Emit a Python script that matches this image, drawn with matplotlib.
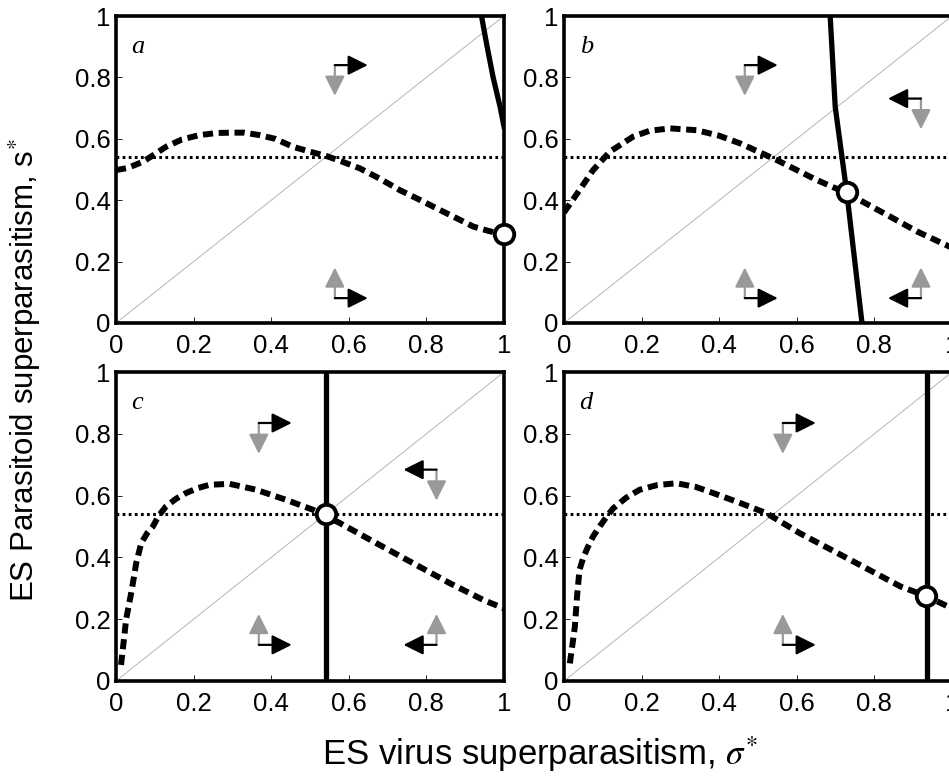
import matplotlib.pyplot as plt

plt.rcParams['font.family'] = ['Liberation Sans', 'DejaVu Sans']
plt.rcParams['mathtext.fontset'] = 'stix'

ticks = [0, 0.2, 0.4, 0.6, 0.8, 1]
tick_labels = ['0', '0.2', '0.4', '0.6', '0.8', '1']
letters = ['a', 'b', 'c', 'd']

# horizontal dotted level (s*)
s_level = 0.54

# dashed curves (parasitoid best response)
a_dash_x = [0.0, 0.03, 0.069, 0.1, 0.129, 0.17, 0.215, 0.26, 0.301, 0.33, 0.37, 0.41, 0.456, 0.5,
            0.542, 0.58, 0.628, 0.68, 0.731, 0.78, 0.835, 0.88, 0.921, 0.96, 1.0]
a_dash_y = [0.498, 0.505, 0.525, 0.55, 0.574, 0.598, 0.612, 0.619, 0.62, 0.62, 0.612, 0.6, 0.574, 0.558,
            0.544, 0.527, 0.504, 0.47, 0.433, 0.403, 0.368, 0.34, 0.314, 0.3, 0.287]

b_dash_x = [0.0, 0.04, 0.075, 0.118, 0.178, 0.22, 0.273, 0.342, 0.4, 0.454, 0.548, 0.651, 0.729,
            0.824, 0.91, 1.0]
b_dash_y = [0.36, 0.433, 0.498, 0.558, 0.607, 0.626, 0.634, 0.628, 0.61, 0.585, 0.531, 0.466, 0.423,
            0.358, 0.298, 0.245]

c_dash_x = [0.013, 0.02, 0.026, 0.033, 0.039, 0.046, 0.052, 0.065, 0.08, 0.095, 0.11, 0.129, 0.155,
            0.18, 0.21, 0.241, 0.293, 0.361, 0.439, 0.508, 0.577, 0.671, 0.766, 0.861, 0.947, 1.0]
c_dash_y = [0.052, 0.13, 0.198, 0.245, 0.284, 0.335, 0.381, 0.446, 0.478, 0.5, 0.535, 0.565, 0.59,
            0.608, 0.624, 0.635, 0.638, 0.619, 0.586, 0.554, 0.511, 0.446, 0.381, 0.316, 0.262, 0.235]

d_dash_x = [0.015, 0.022, 0.028, 0.034, 0.04, 0.05, 0.062, 0.075, 0.092, 0.11, 0.127, 0.16, 0.195,
            0.24, 0.29, 0.34, 0.385, 0.45, 0.522, 0.608, 0.738, 0.867, 0.931, 1.0]
d_dash_y = [0.057, 0.12, 0.176, 0.28, 0.36, 0.4, 0.435, 0.468, 0.5, 0.532, 0.559, 0.593, 0.619,
            0.634, 0.64, 0.628, 0.608, 0.578, 0.543, 0.478, 0.392, 0.306, 0.276, 0.235]

# solid curves (virus best response)
a_solid_x = [0.942, 0.955, 0.972, 0.99, 1.0]
a_solid_y = [1.0, 0.91, 0.8, 0.704, 0.64]
b_solid_x = [0.686, 0.699, 0.729, 0.768]
b_solid_y = [1.0, 0.704, 0.423, 0.0]
c_solid_x = [0.542, 0.542]
c_solid_y = [0.0, 1.0]
d_solid_x = [0.935, 0.935]
d_solid_y = [0.0, 1.0]

# equilibrium points
eq_x = [1.0, 0.729, 0.542, 0.933]
eq_y = [0.29, 0.426, 0.54, 0.276]

# direction arrows: corner x, corner y, horizontal sign, vertical sign
arrows = [
    [(0.564, 0.84, 1, -1), (0.564, 0.081, 1, 1)],
    [(0.466, 0.84, 1, -1), (0.92, 0.731, -1, -1), (0.466, 0.081, 1, 1), (0.92, 0.081, -1, 1)],
    [(0.368, 0.835, 1, -1), (0.826, 0.684, -1, -1), (0.368, 0.117, 1, 1), (0.826, 0.117, -1, 1)],
    [(0.564, 0.835, 1, -1), (0.564, 0.117, 1, 1)],
]

dash_x = [a_dash_x, b_dash_x, c_dash_x, d_dash_x]
dash_y = [a_dash_y, b_dash_y, c_dash_y, d_dash_y]
solid_x = [a_solid_x, b_solid_x, c_solid_x, d_solid_x]
solid_y = [a_solid_y, b_solid_y, c_solid_y, d_solid_y]

W, H = 949, 778
fig = plt.figure(figsize=(W / 100, H / 100), dpi=100)

# axes boxes in pixels: left, top, right, bottom
boxes = [(116, 16, 504, 323), (564, 16, 952, 323),
         (116, 372, 504, 681), (564, 372, 952, 681)]

hlen, vlen = 0.085, 0.1

for i, (l, t, r, b) in enumerate(boxes):
    ax = fig.add_axes([l / W, 1 - b / H, (r - l) / W, (b - t) / H])
    ax.set_xlim(0, 1)
    ax.set_ylim(0, 1)
    for sp in ax.spines.values():
        sp.set_linewidth(2.6)
    ax.set_xticks(ticks)
    ax.set_xticklabels(tick_labels)
    ax.set_yticks(ticks)
    ax.set_yticklabels(tick_labels)
    ax.tick_params(direction='in', length=4, width=0.6, labelsize=18.5)
    ax.tick_params(axis='x', pad=8)
    ax.tick_params(axis='y', pad=4)

    ax.plot([0, 1], [0, 1], color='#b5b5b5', lw=0.7, zorder=1)
    ax.axhline(s_level, color='black', lw=2.2, linestyle=(0, (0.9, 1.1)), zorder=2)
    ax.plot(dash_x[i], dash_y[i], color='black', lw=4.3, linestyle=(0, (1.7, 0.95)), zorder=3)
    ax.plot(solid_x[i], solid_y[i], color='black', lw=3.8, zorder=4)
    ax.plot(eq_x[i], eq_y[i], 'o', ms=14, mfc='white', mec='black', mew=2.8,
            zorder=6, clip_on=False)

    for cx, cy, hs, vs in arrows[i]:
        ax.annotate('', xy=(cx, cy + vs * vlen), xytext=(cx, cy),
                    arrowprops=dict(arrowstyle='-|>,head_length=0.6,head_width=0.3',
                                    color='#999999', lw=1.6, shrinkA=0, shrinkB=0,
                                    mutation_scale=20))
        ax.annotate('', xy=(cx + hs * hlen, cy), xytext=(cx, cy),
                    arrowprops=dict(arrowstyle='-|>,head_length=0.6,head_width=0.3',
                                    color='black', lw=1.6, shrinkA=0, shrinkB=0,
                                    mutation_scale=20))

    ax.text(0.04, 0.88, letters[i], fontsize=19, family='Liberation Serif',
            style='italic', va='baseline', ha='left')

fig.text(25 / W, 1 - 370 / H, r'ES Parasitoid superparasitism, s$^{*}$', rotation=90,
         fontsize=22.5, ha='center', va='center')
fig.text(540 / W, 1 - 765 / H, r'ES virus superparasitism, $\sigma^{*}$',
         fontsize=25, ha='center', va='baseline')

fig.savefig('out.png', dpi=100)
